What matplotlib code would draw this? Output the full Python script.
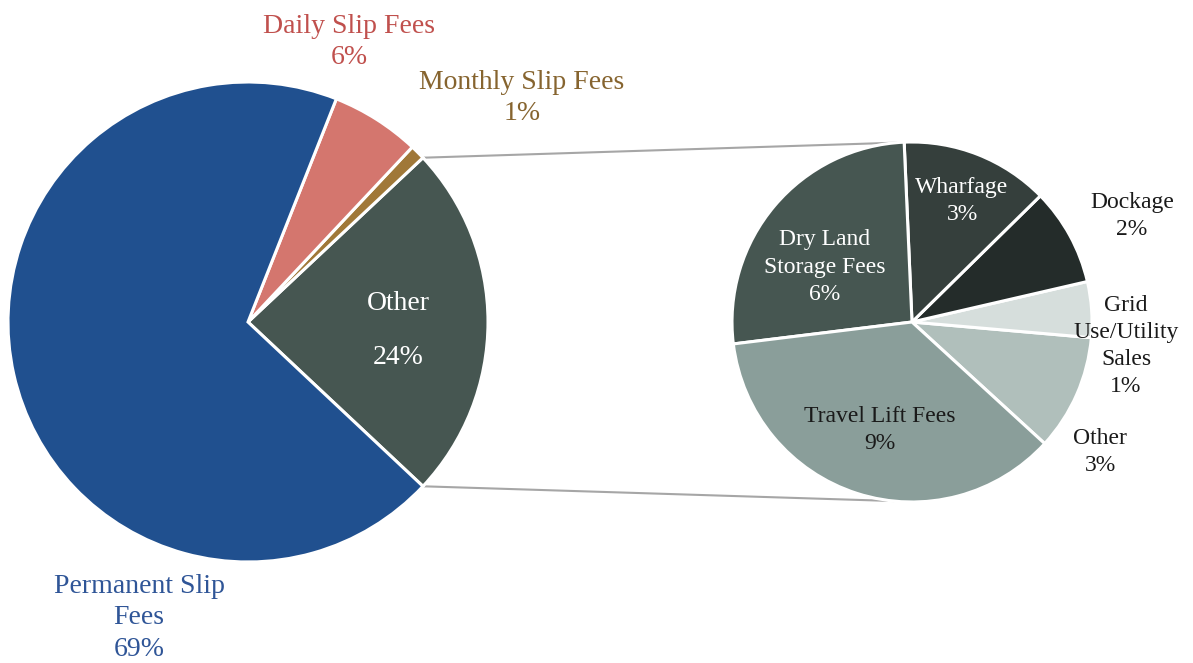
import matplotlib.pyplot as plt
import numpy as np

plt.rcParams['font.family'] = ['Liberation Serif', 'DejaVu Serif']

# main pie (share of total revenue, %)
main_labels = ['Other', 'Monthly Slip Fees', 'Daily Slip Fees', 'Permanent Slip\nFees']
main_values = [24, 1, 6, 69]
main_colors = ['#465651', '#A07838', '#D4766E', '#20508F']

# breakdown of "Other" (% of total revenue)
sub_labels = ['Other', 'Grid\nUse/Utility\nSales', 'Dockage', 'Wharfage',
              'Dry Land\nStorage Fees', 'Travel Lift Fees']
sub_values = [2.5, 1.2, 2.1, 3.2, 6.3, 8.7]
sub_colors = ['#B0BFBB', '#D6DEDC', '#242C2A', '#353F3C', '#465651', '#8A9E9A']

fig = plt.figure(figsize=(11.93, 6.63), dpi=100)
ax = fig.add_axes([0, 0, 1, 1])

c1, r1 = (248, 341), 240
c2, r2 = (912, 341), 180

start1 = -main_values[0] / 100 * 360 / 2
w1, _ = ax.pie(main_values, colors=main_colors, startangle=start1, center=c1,
               radius=r1, wedgeprops=dict(edgecolor='white', linewidth=2.2),
               frame=True)
w2, _ = ax.pie(sub_values, colors=sub_colors, startangle=-42.5, center=c2,
               radius=r2, wedgeprops=dict(edgecolor='white', linewidth=2.2),
               frame=True)
ax.set_xlim(0, 1193)
ax.set_ylim(0, 663)
ax.set_aspect('equal')
ax.axis('off')

# connector lines from the "Other" wedge to the breakdown pie
for th1, th2 in [(w1[0].theta2, 95), (w1[0].theta1, -96)]:
    a1, a2 = np.radians(th1), np.radians(th2)
    ax.plot([c1[0] + r1 * np.cos(a1), c2[0] + r2 * np.cos(a2)],
            [c1[1] + r1 * np.sin(a1), c2[1] + r2 * np.sin(a2)],
            color='#A6A6A6', lw=1.5, zorder=0)

def pct(v):
    return f'{int(v + 0.5)}%'

# main labels
ax.text(398, 663 - 304, main_labels[0], color='white', fontsize=20, ha='center', va='center')
ax.text(398, 663 - 357, pct(main_values[0]), color='white', fontsize=20, ha='center', va='center')
main_pos = [None, (522, 98), (349, 42), (139, 618)]
main_txt = [None, '#86642F', '#C0504D', '#2F5597']
for i in range(1, 4):
    x, y = main_pos[i]
    ax.text(x, 663 - y, main_labels[i] + '\n' + pct(main_values[i]),
            color=main_txt[i], fontsize=20, ha='center', va='center',
            linespacing=1.34)

# breakdown labels
sub_pos = [(1100, 452), (1126, 346), (1132, 216), (962, 201), (825, 267), (880, 430)]
sub_txt = ['#1A1A1A', '#1A1A1A', '#1A1A1A', 'white', 'white', '#1A1A1A']
for lab, v, (x, y), col in zip(sub_labels, sub_values, sub_pos, sub_txt):
    ax.text(x, 663 - y, lab + '\n' + pct(v), color=col, fontsize=17,
            ha='center', va='center', linespacing=1.38)

fig.savefig('out.png', dpi=100)
